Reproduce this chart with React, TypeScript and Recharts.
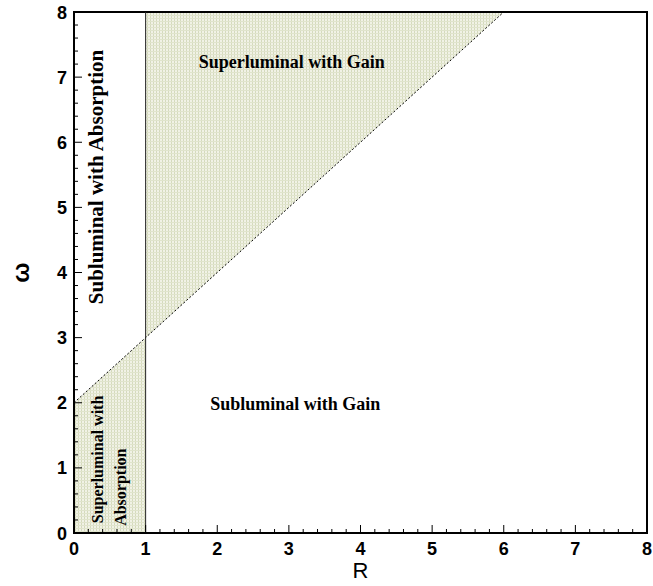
import React from 'react'
import { ComposedChart, Area, Line, XAxis, YAxis, ReferenceLine, ReferenceDot, ReferenceArea } from 'recharts'

// boundary points of the regions (R on x, omega on y)
const rValues = [0, 1, 6]
const lightLine = [2, 3, 8]
const leftRegion: ([number, number] | null)[] = [[0, 2], [0, 3], null]
const gainRegion: ([number, number] | null)[] = [null, [3, 8], [8, 8]]

const majorTicks = [0, 1, 2, 3, 4, 5, 6, 7, 8]
const minorTicks = majorTicks.slice(0, -1).flatMap((t) => [t + 0.2, t + 0.4, t + 0.6, t + 0.8])
const allTicks = [...majorTicks, ...minorTicks].sort((a, b) => a - b)

const data = rValues.map((r, i) => ({
	r,
	line: lightLine[i],
	left: leftRegion[i],
	gain: gainRegion[i],
}))

// page has an 8px body margin; drop it so the chart fills the window without scrollbars
if (typeof document !== 'undefined') {
	document.body.style.margin = '0'
	document.body.style.overflow = 'hidden'
}

const isMajor = (v: number) => Math.abs(v - Math.round(v)) < 1e-6

const XTick = ({ x, y, payload }: any) => {
	const major = isMajor(payload.value)
	return (
		<g>
			<line x1={x} y1={y} x2={x} y2={y - (major ? 8 : 4)} stroke="#000" strokeWidth={1} />
			{major && (
				<text x={x} y={y + 22} textAnchor="middle" fontFamily="Liberation Sans, Arial" fontWeight="bold" fontSize={18} fill="#000">
					{Math.round(payload.value)}
				</text>
			)}
		</g>
	)
}

const YTick = ({ x, y, payload }: any) => {
	const major = isMajor(payload.value)
	return (
		<g>
			<line x1={x} y1={y} x2={x + (major ? 8 : 4)} y2={y} stroke="#000" strokeWidth={1} />
			{major && (
				<text x={x - 7} y={y + 6.5} textAnchor="end" fontFamily="Liberation Sans, Arial" fontWeight="bold" fontSize={18} fill="#000">
					{Math.round(payload.value)}
				</text>
			)}
		</g>
	)
}

const note = (text: string, size: number, anchor: string, rotate = false) => (p: any) => (
	<text
		x={p.cx}
		y={p.cy}
		textAnchor={anchor}
		transform={rotate ? `rotate(-90, ${p.cx}, ${p.cy})` : undefined}
		fontFamily="Liberation Serif, Times New Roman"
		fontWeight="bold"
		fontSize={size}
		fill="#000"
	>
		{text}
	</text>
)

export default function App() {
	return (
		<ComposedChart width={653} height={586} data={data} margin={{ top: 12, right: 6, bottom: 3, left: 14 }}>
			<defs>
				<pattern id="hatch" width={3} height={3} patternUnits="userSpaceOnUse">
					<rect width={3} height={3} fill="#f1f2e6" />
					<line x1={0.5} y1={0} x2={0.5} y2={3} stroke="#d5dabd" strokeWidth={1} />
					<line x1={0} y1={0.5} x2={3} y2={0.5} stroke="#e0e4cc" strokeWidth={1} />
				</pattern>
			</defs>
			<XAxis
				dataKey="r"
				type="number"
				domain={[0, 8]}
				ticks={allTicks}
				interval={0}
				height={50}
				tickSize={0}
				tickMargin={0}
				tickLine={false}
				tick={<XTick />}
				axisLine={{ stroke: '#000', strokeWidth: 2 }}
				label={{
					content: ({ viewBox }: any) => (
						<text x={viewBox.x + viewBox.width / 2} y={viewBox.y + 45} textAnchor="middle" fontFamily="Liberation Sans, Arial" fontSize={22} fill="#000">
							R
						</text>
					),
				}}
			/>
			<YAxis
				type="number"
				domain={[0, 8]}
				ticks={allTicks}
				interval={0}
				width={60}
				tickSize={0}
				tickMargin={0}
				tickLine={false}
				tick={<YTick />}
				axisLine={{ stroke: '#000', strokeWidth: 2 }}
				allowDataOverflow
				label={{
					content: ({ viewBox }: any) => {
						const cx = viewBox.x + 6
						const cy = viewBox.y + viewBox.height / 2
						return (
							<text x={cx} y={cy} textAnchor="middle" dominantBaseline="central" transform={`rotate(-90, ${cx}, ${cy})`} fontFamily="Liberation Sans, Arial" fontWeight="bold" fontSize={24} fill="#000">
								ω
							</text>
						)
					},
				}}
			/>
			<Area dataKey="left" type="linear" fill="url(#hatch)" fillOpacity={1} stroke="none" isAnimationActive={false} />
			<Area dataKey="gain" type="linear" fill="url(#hatch)" fillOpacity={1} stroke="none" isAnimationActive={false} />
			<Line dataKey="line" type="linear" stroke="#000" strokeWidth={1} strokeDasharray="2 2" dot={false} isAnimationActive={false} />
			<ReferenceLine x={1} stroke="#222" strokeWidth={1} />
			<ReferenceArea x1={0} x2={8} y1={0} y2={8} fill="none" stroke="#000" strokeWidth={2} />
			<ReferenceDot x={3.04} y={7.14} r={0} shape={note('Superluminal with Gain', 18, 'middle')} />
			<ReferenceDot x={3.09} y={1.89} r={0} shape={note('Subluminal with Gain', 18, 'middle')} />
			<ReferenceDot x={0.41} y={7.42} r={0} shape={note('Subluminal with Absorption', 21, 'end', true)} />
			<ReferenceDot x={0.41} y={0.15} r={0} shape={note('Superluminal with', 16, 'start', true)} />
			<ReferenceDot x={0.73} y={0.11} r={0} shape={note('Absorption', 16, 'start', true)} />
		</ComposedChart>
	)
}
